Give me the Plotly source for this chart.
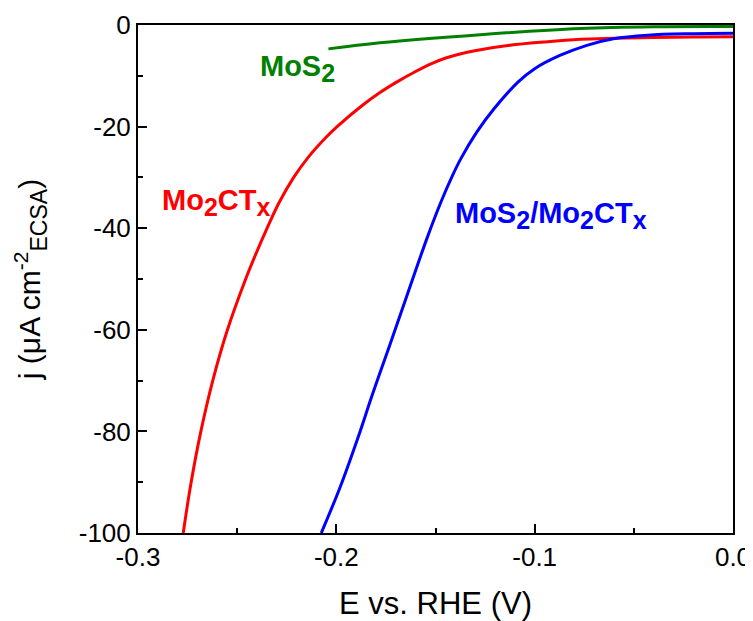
import plotly.graph_objects as go

# Mo2CTx (red)
e_mo2c = [-0.2772, -0.2732, -0.2683, -0.2623, -0.2549, -0.2457, -0.2405, -0.2349, -0.2289, -0.2215,
          -0.2141, -0.2049, -0.1996, -0.1868, -0.1780, -0.1694, -0.1605, -0.1520, -0.1448, -0.1372,
          -0.1295, -0.1125, -0.0955, -0.0771, -0.060, -0.040, -0.020, 0.0]
j_mo2c = [-100, -90, -80, -70, -60, -50, -45, -40, -35, -30,
          -26, -22, -20, -15.8, -13.3, -11.2, -9.25, -7.6, -6.5, -5.65,
          -5.0, -4.0, -3.35, -2.8, -2.6, -2.45, -2.35, -2.3]

# MoS2/Mo2CTx (blue)
e_hyb = [-0.2076, -0.1980, -0.1895, -0.1816, -0.1733, -0.1646, -0.1544, -0.1472, -0.1414, -0.1372,
         -0.1292, -0.1205, -0.1083, -0.1000, -0.0873, -0.0737, -0.0603, -0.043, -0.02, 0.0]
j_hyb = [-100, -90.9, -81.7, -72.5, -63.3, -53.5, -42.1, -34.8, -29.6, -26.3,
         -21.1, -16.5, -11.2, -8.6, -6.0, -4.0, -2.7, -2.0, -1.7, -1.6]

# MoS2 (green)
e_mos2 = [-0.204, -0.178, -0.1275, -0.077, -0.040, 0.0]
j_mos2 = [-4.7, -3.5, -1.9, -0.7, -0.35, -0.3]

x_ticks = [-0.3, -0.2, -0.1, 0.0]
x_ticklabels = ["-0.3", "-0.2", "-0.1", "0.0"]
y_ticks = [-100, -80, -60, -40, -20, 0]
y_ticklabels = ["-100", "-80", "-60", "-40", "-20", "0"]

FONT = "Liberation Sans, Arial, sans-serif"


def sub(t, size=25):
    return '<sub><span style="font-size:%dpx">' % size + t + "</span></sub>"


def sup(t, size=21):
    return '<sup><span style="font-size:%dpx">' % size + t + "</span></sup>"


labels = [
    ("MoS" + sub("2"), -0.2198, -8.6, "#008000"),
    ("Mo" + sub("2") + "CT" + sub("x"), -0.2607, -35.0, "#ff0000"),
    ("MoS" + sub("2") + "/Mo" + sub("2") + "CT" + sub("x"), -0.0917, -37.5, "#0000ff"),
]

fig = go.Figure()
fig.add_trace(go.Scatter(x=e_mos2, y=j_mos2, mode="lines",
                         line=dict(color="#008000", width=3, shape="spline", smoothing=1.0)))
fig.add_trace(go.Scatter(x=e_mo2c, y=j_mo2c, mode="lines",
                         line=dict(color="#ff0000", width=3, shape="spline", smoothing=1.0)))
fig.add_trace(go.Scatter(x=e_hyb, y=j_hyb, mode="lines",
                         line=dict(color="#0000ff", width=3, shape="spline", smoothing=1.0)))

for txt, x, y, c in labels:
    fig.add_annotation(x=x, y=y, text="<b>" + txt + "</b>", showarrow=False,
                       font=dict(color=c, size=29, family=FONT))

axis_common = dict(
    showgrid=False, zeroline=False, showline=True, linecolor="black", linewidth=2,
    mirror=True, ticks="inside", ticklen=9, tickwidth=1.5, tickcolor="black",
    automargin=False,
    tickfont=dict(size=26, color="black", family=FONT),
)

# page body has an 8px default margin, so the figure is sized to fit the window
fig.update_layout(
    width=745, height=613,
    margin=dict(l=130, r=20, t=17, b=88),
    paper_bgcolor="white", plot_bgcolor="white",
    showlegend=False,
    font=dict(family=FONT, color="black"),
    xaxis=dict(range=[-0.3, 0.0], tickvals=x_ticks, ticktext=x_ticklabels,
               minor=dict(ticks="inside", ticklen=5, tickwidth=1.5, tickcolor="black", dtick=0.05, tick0=-0.3),
               title=dict(text="E vs. RHE (V)", font=dict(size=31), standoff=31),
               **axis_common),
    yaxis=dict(range=[-100, 0], tickvals=y_ticks, ticktext=y_ticklabels,
               minor=dict(ticks="inside", ticklen=5, tickwidth=1.5, tickcolor="black", dtick=10, tick0=0),
               title=dict(text="j (μA cm" + sup("-2") + sub("ECSA", 23) + ")", font=dict(size=30), standoff=29),
               **axis_common),
)

fig.write_html("out.html")
